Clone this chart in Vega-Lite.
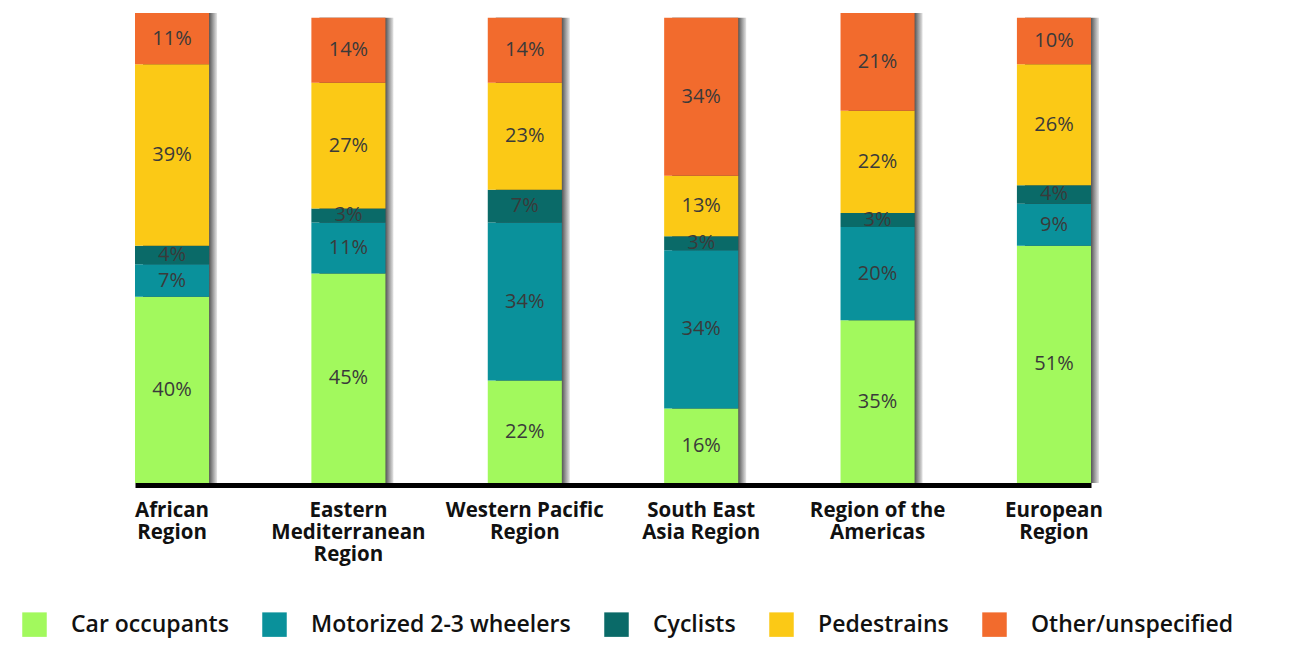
{
  "$schema": "https://vega.github.io/schema/vega-lite/v6.json",
  "width": 956,
  "height": 470,
  "autosize": {"type": "none"},
  "padding": {"left": 135, "top": 13, "right": 210, "bottom": 163},
  "background": "white",
  "config": {"view": {"stroke": null}, "font": "Open Sans"},
  "data": {"values": [
    {"region": "African Region", "category": "Car occupants", "ord": 1, "value": 40},
    {"region": "African Region", "category": "Motorized 2-3 wheelers", "ord": 2, "value": 7},
    {"region": "African Region", "category": "Cyclists", "ord": 3, "value": 4},
    {"region": "African Region", "category": "Pedestrains", "ord": 4, "value": 39},
    {"region": "African Region", "category": "Other/unspecified", "ord": 5, "value": 11},
    {"region": "Eastern Mediterranean Region", "category": "Car occupants", "ord": 1, "value": 45},
    {"region": "Eastern Mediterranean Region", "category": "Motorized 2-3 wheelers", "ord": 2, "value": 11},
    {"region": "Eastern Mediterranean Region", "category": "Cyclists", "ord": 3, "value": 3},
    {"region": "Eastern Mediterranean Region", "category": "Pedestrains", "ord": 4, "value": 27},
    {"region": "Eastern Mediterranean Region", "category": "Other/unspecified", "ord": 5, "value": 14},
    {"region": "Western Pacific Region", "category": "Car occupants", "ord": 1, "value": 22},
    {"region": "Western Pacific Region", "category": "Motorized 2-3 wheelers", "ord": 2, "value": 34},
    {"region": "Western Pacific Region", "category": "Cyclists", "ord": 3, "value": 7},
    {"region": "Western Pacific Region", "category": "Pedestrains", "ord": 4, "value": 23},
    {"region": "Western Pacific Region", "category": "Other/unspecified", "ord": 5, "value": 14},
    {"region": "South East Asia Region", "category": "Car occupants", "ord": 1, "value": 16},
    {"region": "South East Asia Region", "category": "Motorized 2-3 wheelers", "ord": 2, "value": 34},
    {"region": "South East Asia Region", "category": "Cyclists", "ord": 3, "value": 3},
    {"region": "South East Asia Region", "category": "Pedestrains", "ord": 4, "value": 13},
    {"region": "South East Asia Region", "category": "Other/unspecified", "ord": 5, "value": 34},
    {"region": "Region of the Americas", "category": "Car occupants", "ord": 1, "value": 35},
    {"region": "Region of the Americas", "category": "Motorized 2-3 wheelers", "ord": 2, "value": 20},
    {"region": "Region of the Americas", "category": "Cyclists", "ord": 3, "value": 3},
    {"region": "Region of the Americas", "category": "Pedestrains", "ord": 4, "value": 22},
    {"region": "Region of the Americas", "category": "Other/unspecified", "ord": 5, "value": 21},
    {"region": "European Region", "category": "Car occupants", "ord": 1, "value": 51},
    {"region": "European Region", "category": "Motorized 2-3 wheelers", "ord": 2, "value": 9},
    {"region": "European Region", "category": "Cyclists", "ord": 3, "value": 4},
    {"region": "European Region", "category": "Pedestrains", "ord": 4, "value": 26},
    {"region": "European Region", "category": "Other/unspecified", "ord": 5, "value": 10}
  ]},
  "encoding": {
    "x": {
      "field": "region", "type": "nominal", "sort": null,
      "scale": {"paddingInner": 0.58, "paddingOuter": 0},
      "axis": {
        "title": null, "labelAngle": 0, "ticks": false,
        "domainColor": "#000000", "domainWidth": 5, "offset": 2,
        "labelFont": "Open Sans", "labelFontSize": 20.5, "labelFontWeight": "bold",
        "labelColor": "#111111", "labelLineHeight": 22, "labelPadding": 15,
        "labelLimit": 300, "zindex": 1,
        "labelExpr": "datum.value == 'African Region' ? ['African','Region'] : datum.value == 'Eastern Mediterranean Region' ? ['Eastern','Mediterranean','Region'] : datum.value == 'Western Pacific Region' ? ['Western Pacific','Region'] : datum.value == 'South East Asia Region' ? ['South East','Asia Region'] : datum.value == 'Region of the Americas' ? ['Region of the','Americas'] : ['European','Region']"
      }
    }
  },
  "layer": [
    {
      "mark": {
        "type": "bar", "xOffset": 8,
        "color": {"gradient": "linear", "x1": 0, "x2": 1, "y1": 0, "y2": 0,
          "stops": [{"offset": 0, "color": "#3c3c3c"}, {"offset": 0.88, "color": "#454545"}, {"offset": 1, "color": "#e6e6e6"}]}
      },
      "encoding": {
        "y": {"aggregate": "sum", "field": "value", "type": "quantitative", "scale": {"domain": [0, 101], "nice": false}, "axis": null}
      }
    },
    {
      "mark": {"type": "bar"},
      "encoding": {
        "y": {"field": "value", "type": "quantitative", "stack": "zero", "scale": {"domain": [0, 101], "nice": false}, "axis": null},
        "order": {"field": "ord", "type": "quantitative", "sort": "ascending"},
        "color": {
          "field": "category", "type": "nominal",
          "scale": {
            "domain": ["Car occupants", "Motorized 2-3 wheelers", "Cyclists", "Pedestrains", "Other/unspecified"],
            "range": ["#a2f95d", "#0a919b", "#0a6a68", "#fbc916", "#f26b2d"]
          },
          "legend": {
            "title": null, "orient": "none", "direction": "horizontal",
            "legendX": -113, "legendY": 599,
            "symbolType": "square", "symbolSize": 600, "symbolStrokeWidth": 0, "symbolOpacity": 1,
            "labelFont": "Open Sans", "labelFontSize": 23, "labelFontWeight": 600, "labelColor": "#111111",
            "labelOffset": 24, "columnPadding": 33, "labelLimit": 400
          }
        }
      }
    },
    {
      "transform": [{"calculate": "datum.value + '%'", "as": "label"}],
      "mark": {"type": "text", "font": "Open Sans", "fontSize": 20, "color": "#3a3a3a", "baseline": "middle"},
      "encoding": {
        "y": {"field": "value", "type": "quantitative", "stack": "zero", "bandPosition": 0.5},
        "order": {"field": "ord", "type": "quantitative", "sort": "ascending"},
        "detail": {"field": "category"},
        "text": {"field": "label", "type": "nominal"}
      }
    }
  ]
}
